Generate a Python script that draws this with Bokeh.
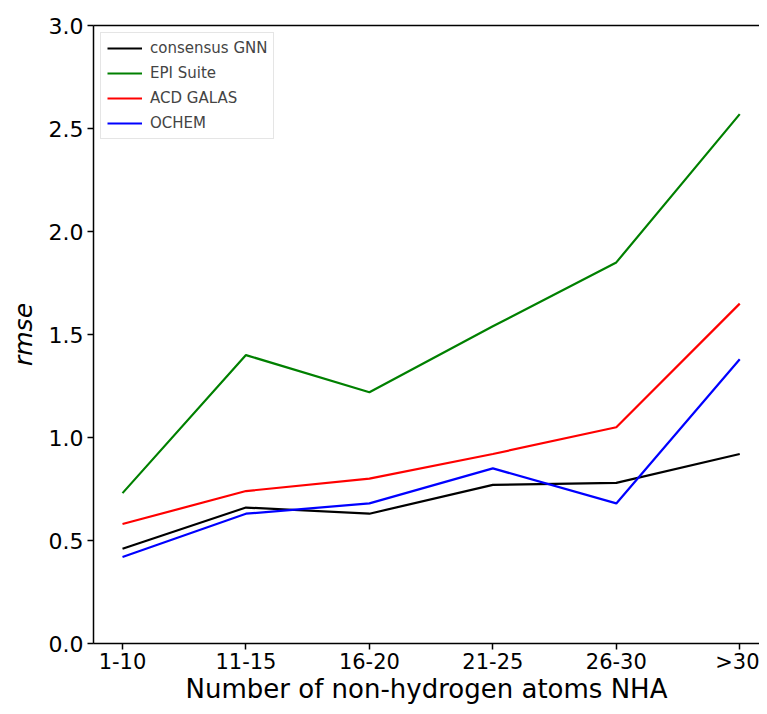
from bokeh.plotting import figure
from bokeh.models import Legend, LegendItem, LinearAxis, FixedTicker, Range1d
from bokeh.embed import file_html
from bokeh.resources import INLINE

categories = ["1-10", "11-15", "16-20", "21-25", "26-30", ">30"]
consensus_gnn = [0.46, 0.66, 0.63, 0.77, 0.78, 0.92]
epi_suite = [0.73, 1.40, 1.22, 1.54, 1.85, 2.57]
acd_galas = [0.58, 0.74, 0.80, 0.92, 1.05, 1.65]
ochem = [0.42, 0.63, 0.68, 0.85, 0.68, 1.38]
y_ticks = [0.0, 0.5, 1.0, 1.5, 2.0, 2.5, 3.0]

xs = list(range(len(categories)))
FONT = "DejaVu Sans"

p = figure(width=759, height=706, output_backend="svg", toolbar_location=None,
           x_range=Range1d(-0.235, 5.16), y_range=Range1d(0, 3.0),
           min_border_left=93, min_border_top=25, min_border_right=0, min_border_bottom=40)
p.outline_line_color = None
p.grid.grid_line_color = None
p.background_fill_color = "white"

series = [("consensus GNN", consensus_gnn, "black"),
          ("EPI Suite", epi_suite, "#008000"),
          ("ACD GALAS", acd_galas, "#ff0000"),
          ("OCHEM", ochem, "#0000ff")]
items = []
for name, vals, col in series:
    r = p.line(xs, vals, line_color=col, line_width=2.2)
    items.append(LegendItem(label=name, renderers=[r]))

legend = Legend(items=items, location="top_left")
legend.label_text_font = FONT
legend.label_text_font_size = "15px"
legend.glyph_width = 35
legend.glyph_height = 16
legend.label_height = 16
legend.spacing = 7
legend.padding = 6
legend.margin = 7
legend.label_standoff = 8
legend.border_line_color = "#cccccc"
legend.border_line_width = 1
legend.background_fill_alpha = 0.8
p.add_layout(legend)

xa = p.xaxis[0]
xa.ticker = FixedTicker(ticks=xs)
xa.major_label_overrides = {i: c for i, c in enumerate(categories)}
xa.axis_label = "Number of non-hydrogen atoms NHA"
xa.axis_label_text_font = FONT
xa.axis_label_text_font_size = "26px"
xa.axis_label_text_font_style = "normal"
xa.axis_label_standoff = -3
xa.major_label_text_font = FONT
xa.major_label_text_font_size = "21px"
xa.major_label_standoff = 0

ya = p.yaxis[0]
ya.ticker = FixedTicker(ticks=y_ticks)
ya.major_label_overrides = {v: f"{v:.1f}" for v in y_ticks}
ya.axis_label = "rmse"
ya.axis_label_text_font = FONT
ya.axis_label_text_font_size = "25px"
ya.axis_label_text_font_style = "italic"
ya.axis_label_standoff = 8
ya.major_label_text_font = FONT
ya.major_label_text_font_size = "22px"
ya.major_label_standoff = 4

for ax in (xa, ya):
    ax.axis_line_width = 1.5
    ax.axis_line_color = "black"
    ax.major_tick_line_width = 1.5
    ax.major_tick_line_color = "black"
    ax.major_tick_out = 6
    ax.major_tick_in = 0
    ax.minor_tick_line_color = None
    ax.major_label_text_color = "black"
    ax.axis_label_text_color = "black"

top = LinearAxis(ticker=FixedTicker(ticks=[]), major_label_text_font_size="0px",
                 axis_line_width=1.5, axis_line_color="black",
                 major_tick_line_color=None, minor_tick_line_color=None)
p.add_layout(top, "above")

open("out.html", "w").write(file_html(p, INLINE))
